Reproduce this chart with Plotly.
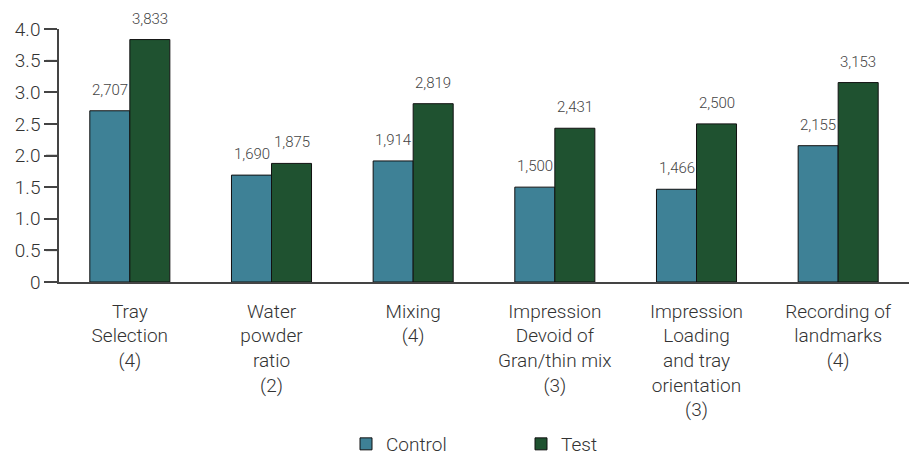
import plotly.graph_objects as go

categories = [
    "Tray<br>Selection<br>(4)",
    "Water<br>powder<br>ratio<br>(2)",
    "Mixing<br>(4)",
    "Impression<br>Devoid of<br>Gran/thin mix<br>(3)",
    "Impression<br>Loading<br>and tray<br>orientation<br>(3)",
    "Recording of<br>landmarks<br>(4)",
]
control = [2.707, 1.690, 1.914, 1.500, 1.466, 2.155]
test = [3.833, 1.875, 2.819, 2.431, 2.500, 3.153]
y_tickvals = [0, 0.5, 1.0, 1.5, 2.0, 2.5, 3.0, 3.5, 4.0]
y_ticktext = ["0", "0.5", "1.0", "1.5", "2.0", "2.5", "3.0", "3.5", "4.0"]

CONTROL_COLOR = "#3e8196"
TEST_COLOR = "#1f5230"
AXIS_COLOR = "#444"
FONT = "Roboto"

def fmt(v):
    return f"{v:.3f}".replace(".", ",")

fig = go.Figure()
fig.add_trace(go.Bar(
    name="Control", x=categories, y=control,
    marker=dict(color=CONTROL_COLOR, line=dict(color="#111", width=1)),
    offsetgroup="c",
))
fig.add_trace(go.Bar(
    name="Test", x=categories, y=test,
    marker=dict(color=TEST_COLOR, line=dict(color="#111", width=1)),
    offsetgroup="t",
))

annotations = []
for i, cat in enumerate(categories):
    for vals, shift in ((control, -20), (test, 20)):
        annotations.append(dict(
            x=cat, y=vals[i], xref="x", yref="y",
            text=fmt(vals[i]), showarrow=False,
            xshift=shift, yshift=10, yanchor="bottom",
            font=dict(family=FONT, size=15, color="#444", weight=300),
        ))

# y-axis tick marks drawn as pixel-sized shapes at the tick values
shapes = []
for v in y_tickvals:
    shapes.append(dict(
        type="line", xref="paper", yref="y",
        xsizemode="pixel", xanchor=0, x0=-13, x1=0,
        y0=v, y1=v, line=dict(color=AXIS_COLOR, width=1.5),
        layer="above",
    ))

fig.update_layout(
    width=912, height=456,
    margin=dict(l=59, r=3, t=29, b=174, autoexpand=False),
    paper_bgcolor="white", plot_bgcolor="white",
    barmode="group", bargap=0.435, bargroupgap=0,
    font=dict(family=FONT, color="#333", weight=300),
    showlegend=True,
    legend=dict(
        orientation="h", x=0.5 + 37 / 850, xanchor="center",
        yref="paper", y=(282 - 444) / 253, yanchor="middle",
        font=dict(family=FONT, size=19, color="#333", weight=300),
        entrywidth=130, itemwidth=30,
    ),
    modebar=dict(bgcolor="rgba(0,0,0,0)", color="rgba(0,0,0,0)",
                 activecolor="rgba(0,0,0,0)"),
    annotations=annotations,
    shapes=shapes,
)
fig.update_xaxes(
    showline=True, linecolor=AXIS_COLOR, linewidth=1.5,
    ticks="", showgrid=False, automargin=False,
    ticklabelstandoff=11,
    tickfont=dict(family=FONT, size=19, color="#333", weight=300),
)
fig.update_yaxes(
    range=[0, 4], showline=True, linecolor=AXIS_COLOR, linewidth=1.5,
    ticks="outside", ticklen=13, tickcolor=AXIS_COLOR, tickwidth=1.5,
    tickvals=y_tickvals, ticktext=y_ticktext, automargin=False,
    ticksuffix="\u00a0\u00a0",
    showgrid=False, zeroline=False,
    tickfont=dict(family=FONT, size=19, color="#333", weight=300),
)

fig.write_html(
    "out.html",
    config={"displayModeBar": False},
    post_script="document.body.style.margin='0';document.body.style.overflow='hidden';",
)
